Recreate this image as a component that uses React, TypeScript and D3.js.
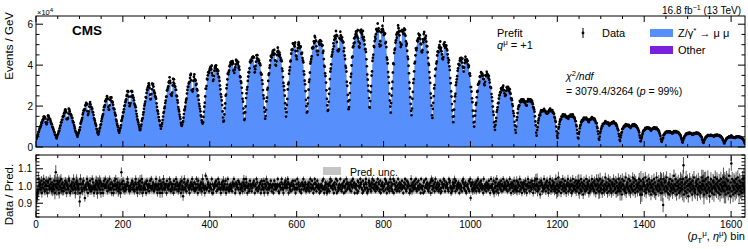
import React from 'react';
import * as d3 from 'd3';

// binning: 34 pT slices x 48 eta bins, unrolled
const nEta = 48;
const nPt = 34;
const nBins = nEta * nPt;

// peak height of every pT slice (x 10^4 events/GeV)
const slicePeak = [1.5, 1.8, 2.15, 2.45, 2.7, 3.1, 3.3, 3.5, 3.9, 4.2, 4.4, 4.7, 5.05, 5.25, 5.45, 5.65, 5.8,
  5.75, 5.45, 5.0, 4.35, 3.6, 2.9, 2.3, 1.8, 1.55, 1.4, 1.2, 1.07, 0.93, 0.75, 0.68, 0.58, 0.5];
// height at the eta edges of every slice (x 10^4)
const sliceEdge = [0.42, 0.5, 0.6, 0.7, 0.8, 0.9, 1.0, 1.1, 1.2, 1.3, 1.4, 1.5, 1.7, 1.75, 1.85, 1.95, 1.9,
  1.7, 1.55, 1.45, 1.2, 1.0, 0.85, 0.7, 0.55, 0.45, 0.42, 0.35, 0.3, 0.28, 0.25, 0.22, 0.2, 0.18];

// half eta shapes (edge -> centre), 0 = edge height, 1 = peak height
const etaLow = [0, 0.05, 0.1, 0.15, 0.2, 0.26, 0.32, 0.38, 0.44, 0.5, 0.56, 0.62, 0.68, 0.73, 0.78, 0.83,
  0.88, 0.92, 0.96, 0.99, 1.0, 0.9, 0.72, 0.66];
const etaMid = [0, 0.1, 0.2, 0.3, 0.39, 0.47, 0.55, 0.62, 0.68, 0.74, 0.79, 0.84, 0.88, 0.91, 0.94, 0.96,
  0.98, 0.99, 1.0, 0.99, 0.97, 0.95, 0.84, 0.8];
const etaHigh = [0, 0.2, 0.36, 0.5, 0.61, 0.7, 0.77, 0.83, 0.87, 0.91, 0.94, 0.96, 0.98, 0.99, 1, 1, 1, 0.99,
  0.98, 0.97, 0.96, 0.94, 0.88, 0.86];

// prediction uncertainty (relative half width) per pT slice
const predUnc = [0.05, 0.05, 0.05, 0.049, 0.048, 0.048, 0.047, 0.047, 0.046, 0.046, 0.046, 0.045, 0.045,
  0.045, 0.046, 0.046, 0.047, 0.047, 0.046, 0.045, 0.045, 0.044, 0.044, 0.043, 0.043, 0.042, 0.042, 0.042,
  0.041, 0.041, 0.041, 0.04, 0.04, 0.04];

// data/prediction per bin, one row per pT slice; 'm' = 1.00, each letter step = 0.01
const ratioRows = [
  'dfhijqkm onlkpiln lqokjmnp kmiopmkl qnlkojml nkpimunl',
  'lpnkoimp lqknjolj mlnpkoim nlkqpmij mnlokkqm nlikopnl',
  'mlkndiqn lkjonplk fmlnkqoi mnlkpmjl kqlomikm lnpkoimn',
  'nlpkoimn mkinpmlq mnlojpml kqnlkoil nmikpmnq kmlnojkl',
  'mnikuonl pklnjmlk nmqomklj mlknoplk nmjkoqnl kilonmkp',
  'lmkqoilk mnlkoinp kmlnjmpl mqkmlonj kmlnqmki mnlkpinl',
  'nmikoqln kmlnipml knmqkojn lmkniplk nmqkomnj kmlnoikp',
  'mlgkoqlk nmjnoplm kilnomkq nmlkojln kqlnipmk lmnkojlq',
  'nmlkimsl kqlnomjl mnlkqini kmlnompj mnkqlonl kilnomkp',
  'lmnkpilk nqlkjmln kmljonmq mnikomnl lpkonilk nmljomqn',
  'kmlqomil mnjkpmnl jmlnopmi mnkqlojl kmlnoikp mnlkpinl',
  'nmqkoiln kmlnpmjl mnikpmnl kmlnqmji nmlkoqln kilnompl',
  'mnlqoinl kmjnomkp nmlkpiln kqlnomkj mnikomnq kmlonjkl',
  'lnkmojlq nlkpmlin kqolnjmp lmnkilmj nlmpkqli mkonlijn',
  'kmnjoqml pmlknimo lkqnipjl mknlqmkj nlmoiplm jnqkolnm',
  'mlkonjmp lqnmoilm nkmipjom lmqnolki pjnmlkoq nlijkopm',
  'nkmjolqn lpkmnjlo mkqlonjk pimnkoml jmnqkpoi lnkmojlq',
  'lomkjnqi pnkmlojm kqnljoml nkpmlimo lqnkjpml onmikjmq',
  'mjnlokmp lnqkjolm pkmnliqm lkmiopjl mqnlomkj nlmoipqm',
  'kpmlnjoq lmknoljm nkpiljon mlqnpjml omnlkjqo plmikjlo',
  'nlmqojpm lknmolim nkmljpoq lnkmojim mnlkpjoq fmnkojlm',
  'mknlojmp lqnkjoml pnkmliqm kmnljoml nkpmlimq lmnkjpil',
  'lomjqmkn imolnkpm jnmqklom nlkpmjon mkqlnimo lnjmpkml',
  'mkpjlonm jqmkolin mlokjnpm kinmqlom jmolkpnm ilnpmkqm',
  'nqjmlkom hmponjlm kqmlnjom plmikonq mjlmpknm ojlkqmin',
  'kmrjlnom iomkqlnj mplkinmo qjmnlkpm injqmlko mkpjnlmo',
  'lpimnkqj omlhnpkm jmqlkonm ipljmknq mlokjpnm imqknlpj',
  'mjqlnkoi pmkljnrm kolimqnj mplkionm jqmnklpi omjlqknm',
  'jolmhqnk mpkjlrim nolkqjmp imlnkrjo mqkiplnm jnloqkmh',
  'plhkmqon jmrkilpn mkqjonlh mpljnkqi omhlrkmn jpmlkqio',
  'nimbqklo pjmrlkin ohmqjlnk pimlsknj qmhokmpl injqlkom',
  'kqyhnljo rimpkgnm qjlonkhp mlrjkiom pnhlqkmj oilmrknp',
  'mhpklqjn imrkolgj nqmkilpo hmlrknjq omilpkhn qjmlokrm',
  'jonhmqkl pimsklgo zjqmhlpk oimqjnlr kmhpljom ikqnmrlj',
];

const xTicks = [0, 200, 400, 600, 800, 1000, 1200, 1400, 1600];
const yTicks = [0, 2, 4, 6];
const rTicks = [0.9, 1.0, 1.1];

const mirror = (h: number[]) => [...h, ...h.slice().reverse()];
const shapes = [mirror(etaLow), mirror(etaMid), mirror(etaHigh)];

const pred: number[] = [];
const ratio: number[] = [];
const unc: number[] = [];
for (let p = 0; p < nPt; p++) {
  const shape = p < 8 ? shapes[0] : p < 23 ? shapes[1] : shapes[2];
  const row = ratioRows[p].replace(/ /g, '');
  for (let e = 0; e < nEta; e++) {
    pred.push(sliceEdge[p] + (slicePeak[p] - sliceEdge[p]) * shape[e]);
    ratio.push(1 + (row.charCodeAt(e) - 109) * 0.01);
    unc.push(predUnc[p]);
  }
}
const data = pred.map((v, i) => v * ratio[i]);
// poisson-like relative error
const relErr = pred.map(v => 0.03 / Math.sqrt(v));

const font = 'Liberation Sans, Arial, Helvetica, sans-serif';
const xL = 36, xR = 745;
const mT = 16, mB = 147;
const rT = 155, rB = 217;

const App = () => {
  const x = d3.scaleLinear().domain([0, nBins]).range([xL, xR]);
  const y = d3.scaleLinear().domain([0, 6.4]).range([mB, mT]);
  const yr = d3.scaleLinear().domain([0.82, 1.18]).range([rB, rT]);

  const steps: [number, number][] = pred.map((v, i) => [i, v] as [number, number]);
  steps.push([nBins, pred[nBins - 1]]);
  const histArea = d3.area<[number, number]>()
    .x(d => x(d[0])).y0(mB).y1(d => y(d[1])).curve(d3.curveStepAfter)(steps);

  const band: [number, number][] = unc.map((u, i) => [i, u] as [number, number]);
  band.push([nBins, unc[nBins - 1]]);
  const bandArea = d3.area<[number, number]>()
    .x(d => x(d[0])).y0(d => yr(1 - d[1])).y1(d => yr(1 + d[1])).curve(d3.curveStepAfter)(band);

  const xMinor = d3.range(0, nBins, 50);
  const yMinor = d3.range(0, 6.41, 0.5);
  const rMinor = d3.range(0.82, 1.181, 0.02);

  const frameTicks = (top: number, bot: number, ys: number[], ysMinor: number[], sc: (v: number) => number) => (
    <g stroke="#000" strokeWidth={1}>
      {xMinor.map(t => {
        const len = t % 200 === 0 ? 6 : 3;
        return <g key={'x' + t}>
          <line x1={x(t)} x2={x(t)} y1={bot} y2={bot - len} />
          <line x1={x(t)} x2={x(t)} y1={top} y2={top + len} />
        </g>;
      })}
      {ysMinor.map((t, i) => {
        const len = ys.some(v => Math.abs(v - t) < 1e-6) ? 7 : 3.5;
        return <g key={'y' + i}>
          <line x1={xL} x2={xL + len} y1={sc(t)} y2={sc(t)} />
          <line x1={xR} x2={xR - len} y1={sc(t)} y2={sc(t)} />
        </g>;
      })}
    </g>
  );

  return (
    <svg width={748} height={249} style={{ position: 'absolute', left: 0, top: 0, background: '#fff' }}
      fontFamily={font}>
      <defs>
        <clipPath id="mainClip"><rect x={xL} y={mT} width={xR - xL} height={mB - mT} /></clipPath>
        <clipPath id="ratioClip"><rect x={xL} y={rT} width={xR - xL} height={rB - rT} /></clipPath>
      </defs>

      {/* main panel */}
      <g clipPath="url(#mainClip)">
        <path d={histArea || ''} fill="#5790fc" />
        <g stroke="#000" strokeWidth={0.8}>
          {data.map((v, i) => (
            <line key={i} x1={x(i + 0.5)} x2={x(i + 0.5)} y1={y(v * (1 + relErr[i]))} y2={y(v * (1 - relErr[i]))} />
          ))}
        </g>
        <g fill="#000">
          {data.map((v, i) => <circle key={i} cx={x(i + 0.5)} cy={y(v)} r={1.35} />)}
        </g>
      </g>
      {frameTicks(mT, mB, yTicks, yMinor, y)}
      <rect x={xL} y={mT} width={xR - xL} height={mB - mT} fill="none" stroke="#000" strokeWidth={1} />
      <g fontSize={10} textAnchor="end">
        {yTicks.map(t => <text key={t} x={33} y={y(t) + 3.6}>{t}</text>)}
      </g>
      <text x={37} y={14.5} fontSize={7.5}>×10<tspan dy={-3} fontSize={6}>4</tspan></text>
      <text transform="rotate(-90)" x={-12} y={13} fontSize={11.5} textAnchor="end">Events / GeV</text>
      <text x={72} y={35} fontSize={13.5} fontWeight="bold">CMS</text>
      <text x={741} y={13.5} fontSize={10} textAnchor="end">16.8 fb<tspan dy={-4} fontSize={7}>−1</tspan><tspan dy={4}> (13 TeV)</tspan></text>

      <text x={497} y={37} fontSize={11}>Prefit</text>
      <text x={497} y={49} fontSize={11}><tspan fontStyle="italic">q</tspan><tspan dy={-4} fontSize={8}>μ</tspan><tspan dy={4}> = +1</tspan></text>

      {/* legend */}
      <line x1={583} x2={583} y1={28} y2={38} stroke="#000" strokeWidth={1} />
      <circle cx={583} cy={33} r={1.4} fill="#000" />
      <text x={602} y={37} fontSize={11}>Data</text>
      <rect x={650} y={29} width={23} height={8} fill="#5790fc" />
      <text x={678} y={37} fontSize={11}>Z/γ<tspan dy={-4} fontSize={8}>*</tspan><tspan dy={4}> → μ μ</tspan></text>
      <rect x={650} y={46} width={23} height={8} fill="#7a21dd" />
      <text x={678} y={54} fontSize={11}>Other</text>

      <text x={566} y={80} fontSize={10.5} fontStyle="italic">χ<tspan dy={-4} fontSize={7.5} fontStyle="normal">2</tspan><tspan dy={4}>/ndf</tspan></text>
      <text x={566} y={94.5} fontSize={10.5}>= 3079.4/3264 (<tspan fontStyle="italic">p</tspan> = 99%)</text>

      {/* ratio panel */}
      <g clipPath="url(#ratioClip)">
        <path d={bandArea || ''} fill="#c4c4c4" />
        <g stroke="#222" strokeWidth={0.75}>
          {ratio.map((r, i) => (
            <line key={i} x1={x(i + 0.5)} x2={x(i + 0.5)} y1={yr(r + relErr[i])} y2={yr(r - relErr[i])} />
          ))}
        </g>
        <g fill="#000">
          {ratio.map((r, i) => <circle key={i} cx={x(i + 0.5)} cy={yr(r)} r={1.25} />)}
        </g>
      </g>
      <rect x={323} y={167} width={18} height={8} fill="#c4c4c4" />
      <text x={350} y={175.5} fontSize={10.5}>Pred. unc.</text>
      {frameTicks(rT, rB, rTicks, rMinor, yr)}
      <rect x={xL} y={rT} width={xR - xL} height={rB - rT} fill="none" stroke="#000" strokeWidth={1} />
      <g fontSize={10} textAnchor="end">
        {rTicks.map(t => <text key={t} x={32} y={yr(t) + 3.6}>{t.toFixed(1)}</text>)}
      </g>
      <text transform="rotate(-90)" x={-194.5} y={13} fontSize={11.5} textAnchor="middle">Data / Pred.</text>
      <g fontSize={10} textAnchor="middle">
        {xTicks.map(t => <text key={t} x={x(t)} y={227.5}>{t}</text>)}
      </g>
      <text x={745} y={240} fontSize={11} textAnchor="end">(<tspan fontStyle="italic">p</tspan><tspan dy={3} fontSize={8}>T</tspan><tspan dy={-7} fontSize={8}>μ</tspan><tspan dy={4}>, </tspan><tspan fontStyle="italic">η</tspan><tspan dy={-4} fontSize={8}>μ</tspan><tspan dy={4}>) bin</tspan></text>
    </svg>
  );
};

export default App;
